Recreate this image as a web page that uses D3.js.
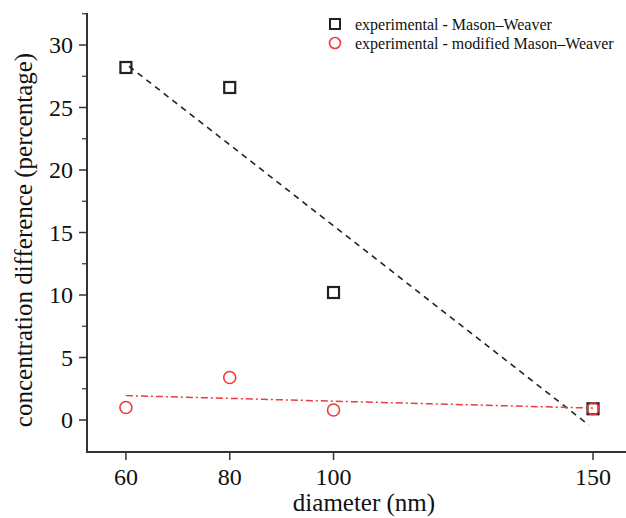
<!DOCTYPE html>
<html>
<head>
<meta charset="utf-8">
<script src="https://unpkg.com/d3@7/dist/d3.min.js"></script>
<style>
  body { margin: 0; background: #fff; }
  svg { display: block; font-family: "Liberation Serif", "DejaVu Serif", serif; }
</style>
</head>
<body>
<div id="chart"></div>
<script>
// data
const diameters = [60, 80, 100, 150];
const masonWeaver = [28.2, 26.6, 10.2, 0.9];
const modifiedMW = [1.0, 3.4, 0.8, 0.9];
// fitted trend lines (end points)
const fitMW = [[60.6, 28.3], [149.2, -0.4]];
const fitModified = [[60, 1.95], [150, 0.95]];
const xTicks = [60, 80, 100, 150];
const yTicks = [0, 5, 10, 15, 20, 25, 30];
const yMinorTicks = [2.5, 7.5, 12.5, 17.5, 22.5, 27.5, 32.5];
const legendLabels = ["experimental - Mason\u2013Weaver", "experimental - modified Mason\u2013Weaver"];

const width = 626, height = 518;
const plotLeft = 87, plotRight = 640, plotTop = 13, plotBottom = 452;
const axisColor = "#333";
const black = "#222";
const red = "#ee3b3b";

const svg = d3.select("#chart").append("svg")
    .attr("width", width)
    .attr("height", height);

const x = d3.scaleLinear().domain([52.5, 52.5 + (plotRight - plotLeft) / 5.19]).range([plotLeft, plotRight]);
const y = d3.scaleLinear().domain([-2.56, 32.56]).range([plotBottom, plotTop]);

// axes
svg.append("line")
    .attr("x1", plotLeft).attr("x2", plotLeft)
    .attr("y1", plotTop).attr("y2", plotBottom)
    .attr("stroke", axisColor).attr("stroke-width", 2);
svg.append("line")
    .attr("x1", plotLeft - 1).attr("x2", plotRight)
    .attr("y1", plotBottom).attr("y2", plotBottom)
    .attr("stroke", axisColor).attr("stroke-width", 2);

// y ticks
svg.selectAll(".ytick")
    .data(yTicks)
    .enter().append("line")
    .attr("class", "ytick")
    .attr("x1", plotLeft - 8).attr("x2", plotLeft)
    .attr("y1", d => y(d)).attr("y2", d => y(d))
    .attr("stroke", axisColor).attr("stroke-width", 1.5);
svg.selectAll(".yminor")
    .data(yMinorTicks)
    .enter().append("line")
    .attr("class", "yminor")
    .attr("x1", plotLeft - 5).attr("x2", plotLeft)
    .attr("y1", d => y(d)).attr("y2", d => y(d))
    .attr("stroke", axisColor).attr("stroke-width", 1.2);
svg.selectAll(".ylabel")
    .data(yTicks)
    .enter().append("text")
    .attr("class", "ylabel")
    .attr("x", plotLeft - 14)
    .attr("y", d => y(d))
    .attr("dy", "0.35em")
    .attr("text-anchor", "end")
    .attr("font-size", 24)
    .attr("fill", "#111")
    .text(d => d);

// x ticks
svg.selectAll(".xtick")
    .data(xTicks)
    .enter().append("line")
    .attr("class", "xtick")
    .attr("x1", d => x(d)).attr("x2", d => x(d))
    .attr("y1", plotBottom).attr("y2", plotBottom + 8)
    .attr("stroke", axisColor).attr("stroke-width", 1.5);
svg.selectAll(".xlabel")
    .data(xTicks)
    .enter().append("text")
    .attr("class", "xlabel")
    .attr("x", d => x(d))
    .attr("y", plotBottom + 33)
    .attr("text-anchor", "middle")
    .attr("font-size", 24)
    .attr("fill", "#111")
    .text(d => d);

// axis titles
svg.append("text")
    .attr("x", 364).attr("y", 511)
    .attr("text-anchor", "middle")
    .attr("font-size", 25)
    .attr("fill", "#111")
    .text("diameter (nm)");
svg.append("text")
    .attr("transform", "translate(32,240) rotate(-90)")
    .attr("text-anchor", "middle")
    .attr("font-size", 25)
    .attr("fill", "#111")
    .text("concentration difference (percentage)");

// trend lines
const line = d3.line().x(d => x(d[0])).y(d => y(d[1]));
svg.append("path")
    .datum(fitMW)
    .attr("d", line)
    .attr("fill", "none")
    .attr("stroke", black)
    .attr("stroke-width", 1.6)
    .attr("stroke-dasharray", "6,5");
svg.append("path")
    .datum(fitModified)
    .attr("d", line)
    .attr("fill", "none")
    .attr("stroke", red)
    .attr("stroke-width", 1.5)
    .attr("stroke-dasharray", "7,3,2,3");

// points
const sq = 11;
svg.selectAll(".mw")
    .data(diameters)
    .enter().append("rect")
    .attr("class", "mw")
    .attr("x", (d, i) => x(d) - sq / 2)
    .attr("y", (d, i) => y(masonWeaver[i]) - sq / 2)
    .attr("width", sq).attr("height", sq)
    .attr("fill", "none")
    .attr("stroke", black)
    .attr("stroke-width", 2.2);
svg.selectAll(".mod")
    .data(diameters)
    .enter().append("circle")
    .attr("class", "mod")
    .attr("cx", d => x(d))
    .attr("cy", (d, i) => y(modifiedMW[i]))
    .attr("r", 6)
    .attr("fill", "none")
    .attr("stroke", red)
    .attr("stroke-width", 1.6);

// legend
const legend = svg.append("g").attr("transform", "translate(335,24)");
legend.append("rect")
    .attr("x", -5).attr("y", -5)
    .attr("width", 10).attr("height", 10)
    .attr("fill", "none").attr("stroke", black).attr("stroke-width", 2);
legend.append("circle")
    .attr("cx", 0).attr("cy", 19).attr("r", 5.5)
    .attr("fill", "none").attr("stroke", red).attr("stroke-width", 1.6);
legend.selectAll(".leg")
    .data(legendLabels)
    .enter().append("text")
    .attr("class", "leg")
    .attr("x", 20)
    .attr("y", (d, i) => i * 19)
    .attr("dy", "0.35em")
    .attr("font-size", 16)
    .attr("fill", "#111")
    .text(d => d);
</script>
</body>
</html>
